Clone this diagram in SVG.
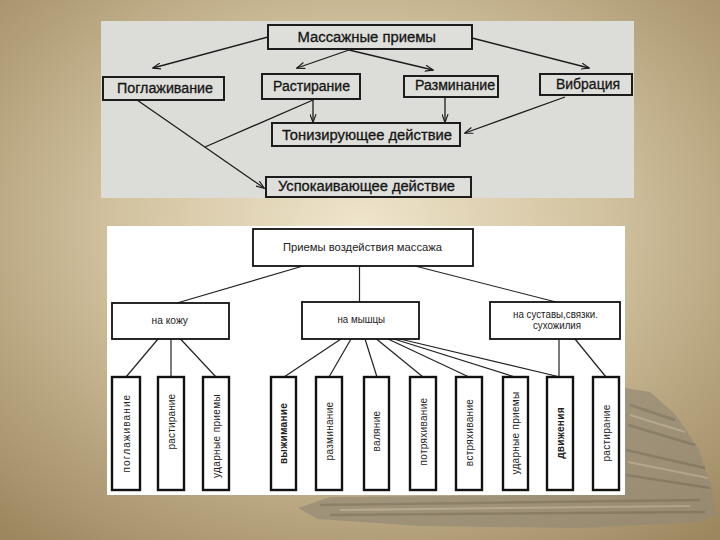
<svg xmlns="http://www.w3.org/2000/svg" width="720" height="540" viewBox="0 0 720 540">
<defs>
<radialGradient id="bg" cx="0.5" cy="0.42" r="0.75">
<stop offset="0" stop-color="#efe5cc"/>
<stop offset="0.45" stop-color="#d2c29f"/>
<stop offset="1" stop-color="#9c875f"/>
</radialGradient>
<marker id="arr" viewBox="0 0 10 8" refX="9" refY="4" markerWidth="9" markerHeight="7" orient="auto" markerUnits="userSpaceOnUse">
<path d="M0,0.5 L9.5,4 L0,7.5" fill="none" stroke="#1a1a1a" stroke-width="1.3"/>
</marker>
<style>
.tbox{fill:#dededa;stroke:#1c1c1c;stroke-width:2}
.tt{font-family:"Liberation Sans",Arial,sans-serif;font-size:14px;fill:#151515;stroke:#151515;stroke-width:0.3;text-anchor:start}
.tl{fill:none;stroke:#1c1c1c;stroke-width:1.3}
.bbox{fill:#ffffff;stroke:#111;stroke-width:1.8}
.vbox{fill:#ffffff;stroke:#111;stroke-width:2.4}
.bt{font-family:"Liberation Sans",Arial,sans-serif;font-size:10px;fill:#222;text-anchor:start}
.vt{font-family:"Liberation Sans",Arial,sans-serif;font-size:10px;fill:#222;text-anchor:middle;letter-spacing:0.3px}
.bl{fill:none;stroke:#222;stroke-width:1.2}
</style>
</defs>
<rect width="720" height="540" fill="url(#bg)"/>
<g id="decor" opacity="0.7">
<polygon points="298,508 330,497 625,494 625,388 650,392 676,415 698,448 712,488 716,514 700,522 580,528 420,526 318,519" fill="#948a76"/>
<g stroke="#6f6656" stroke-width="2.5" fill="none" opacity="0.7">
<path d="M320,505 L700,500"/><path d="M330,515 L705,512"/><path d="M630,405 L675,420"/><path d="M628,425 L695,445"/><path d="M626,450 L705,468"/><path d="M626,475 L710,488"/>
</g>
<g stroke="#c4baa4" stroke-width="2" fill="none" opacity="0.7">
<path d="M340,510 L690,506"/><path d="M630,415 L685,432"/><path d="M628,462 L708,478"/>
</g>
</g>
<g id="top-panel">
<rect x="101" y="21" width="533" height="177" fill="#dcdcd8"/>
</g>
<g id="top-connectors">
<line class="tl" x1="268" y1="37" x2="153" y2="68" marker-end="url(#arr)"/>
<line class="tl" x1="349" y1="50" x2="297" y2="68" marker-end="url(#arr)"/>
<line class="tl" x1="349" y1="50" x2="433" y2="70" marker-end="url(#arr)"/>
<line class="tl" x1="472" y1="38" x2="589" y2="68" marker-end="url(#arr)"/>
<line class="tl" x1="313" y1="100" x2="313" y2="122" marker-end="url(#arr)"/>
<line class="tl" x1="445" y1="97" x2="445" y2="122" marker-end="url(#arr)"/>
<line class="tl" x1="565" y1="97" x2="465" y2="133" marker-end="url(#arr)"/>
<line class="tl" x1="137" y1="100" x2="264" y2="188" marker-end="url(#arr)"/>
<line class="tl" x1="313" y1="100" x2="205" y2="147"/>
</g>
<g id="t-main"><rect class="tbox" x="268" y="25" width="204" height="24"/><text class="tt" x="297.5" y="42" textLength="138.5" lengthAdjust="spacingAndGlyphs">Массажные приемы</text></g>
<g id="t-poglazh"><rect class="tbox" x="103" y="77" width="121" height="23"/><text class="tt" x="117" y="93" textLength="96" lengthAdjust="spacingAndGlyphs">Поглаживание</text></g>
<g id="t-rastir"><rect class="tbox" x="262" y="74" width="98" height="25"/><text class="tt" x="273" y="91" textLength="77" lengthAdjust="spacingAndGlyphs">Растирание</text></g>
<g id="t-razmin"><rect class="tbox" x="404" y="76" width="94" height="21"/><text class="tt" x="415" y="90" textLength="80" lengthAdjust="spacingAndGlyphs">Разминание</text></g>
<g id="t-vibr"><rect class="tbox" x="540" y="74" width="92" height="21"/><text class="tt" x="556" y="88.5" textLength="64" lengthAdjust="spacingAndGlyphs">Вибрация</text></g>
<g id="t-toniz"><rect class="tbox" x="272" y="123" width="188" height="23"/><text class="tt" x="282" y="139.5" textLength="170" lengthAdjust="spacingAndGlyphs">Тонизирующее действие</text></g>
<g id="t-uspok"><rect class="tbox" x="266" y="177" width="205" height="20"/><text class="tt" x="278" y="191" textLength="177" lengthAdjust="spacingAndGlyphs">Успокаивающее действие</text></g>
<g id="bottom-panel">
<rect x="107" y="226" width="518" height="269" fill="#ffffff"/>
</g>
<g id="bottom-connectors">
<line class="bl" x1="303" y1="266" x2="177" y2="303"/>
<line class="bl" x1="359.5" y1="266" x2="359.5" y2="302"/>
<line class="bl" x1="415" y1="266" x2="556" y2="302"/>
<line class="bl" x1="158" y1="339" x2="126" y2="377"/>
<line class="bl" x1="171" y1="339" x2="171" y2="377"/>
<line class="bl" x1="180.5" y1="339" x2="216" y2="377"/>
<line class="bl" x1="341" y1="339" x2="284" y2="377"/>
<line class="bl" x1="351" y1="339" x2="329" y2="377"/>
<line class="bl" x1="365" y1="339" x2="377" y2="377"/>
<line class="bl" x1="376.5" y1="339" x2="423" y2="377"/>
<line class="bl" x1="388" y1="339" x2="469" y2="377"/>
<line class="bl" x1="394" y1="339" x2="515" y2="377"/>
<line class="bl" x1="400" y1="339" x2="560" y2="377"/>
<line class="bl" x1="559" y1="339" x2="559" y2="377"/>
<line class="bl" x1="575" y1="339" x2="606" y2="377"/>
</g>
<g id="b-main"><rect class="bbox" x="253" y="229" width="220" height="37"/><text class="bt" x="283" y="250.5" textLength="159" lengthAdjust="spacingAndGlyphs">Приемы воздействия массажа</text></g>
<g id="b-skin"><rect class="bbox" x="112" y="303" width="117" height="36"/><text class="bt" x="151.5" y="323.5" textLength="36.5" lengthAdjust="spacingAndGlyphs">на кожу</text></g>
<g id="b-muscle"><rect class="bbox" x="302" y="302" width="117" height="37"/><text class="bt" x="337.5" y="323" textLength="47.5" lengthAdjust="spacingAndGlyphs">на мышцы</text></g>
<g id="b-joint"><rect class="bbox" x="490" y="302" width="130" height="37"/><text class="bt" x="513" y="317.5" textLength="85" lengthAdjust="spacingAndGlyphs">на суставы,связки.</text><text class="bt" x="533" y="328.5" textLength="48" lengthAdjust="spacingAndGlyphs">сухожилия</text></g>
<g id="v1"><rect class="vbox" x="112" y="377" width="28" height="113"/><text class="vt" transform="translate(129.6,433.5) rotate(-90)" textLength="78" lengthAdjust="spacing">поглаживание</text></g>
<g id="v2"><rect class="vbox" x="158" y="377" width="26" height="113"/><text class="vt" transform="translate(174.6,421.5) rotate(-90)" textLength="56" lengthAdjust="spacing">растирание</text></g>
<g id="v3"><rect class="vbox" x="203" y="377" width="26" height="113"/><text class="vt" transform="translate(219.6,436) rotate(-90)" textLength="84" lengthAdjust="spacing">ударные приемы</text></g>
<g id="v4"><rect class="vbox" x="271" y="377" width="25" height="113"/><text class="vt" transform="translate(287.1,433.5) rotate(-90)" font-weight="bold">выжимание</text></g>
<g id="v5"><rect class="vbox" x="316" y="377" width="26" height="113"/><text class="vt" transform="translate(332.6,431) rotate(-90)">разминание</text></g>
<g id="v6"><rect class="vbox" x="364" y="377" width="25" height="113"/><text class="vt" transform="translate(380.1,431) rotate(-90)">валяние</text></g>
<g id="v7"><rect class="vbox" x="410" y="377" width="26" height="113"/><text class="vt" transform="translate(426.6,431.5) rotate(-90)">потряхивание</text></g>
<g id="v8"><rect class="vbox" x="456" y="377" width="26" height="113"/><text class="vt" transform="translate(472.6,432.5) rotate(-90)">встряхивание</text></g>
<g id="v9"><rect class="vbox" x="503" y="377" width="25" height="113"/><text class="vt" transform="translate(519.1,433) rotate(-90)">ударные приемы</text></g>
<g id="v10"><rect class="vbox" x="547" y="377" width="26" height="113"/><text class="vt" transform="translate(563.6,433) rotate(-90)" font-weight="bold">движения</text></g>
<g id="v11"><rect class="vbox" x="593" y="377" width="26" height="113"/><text class="vt" transform="translate(609.6,433) rotate(-90)">растирание</text></g>
</svg>
